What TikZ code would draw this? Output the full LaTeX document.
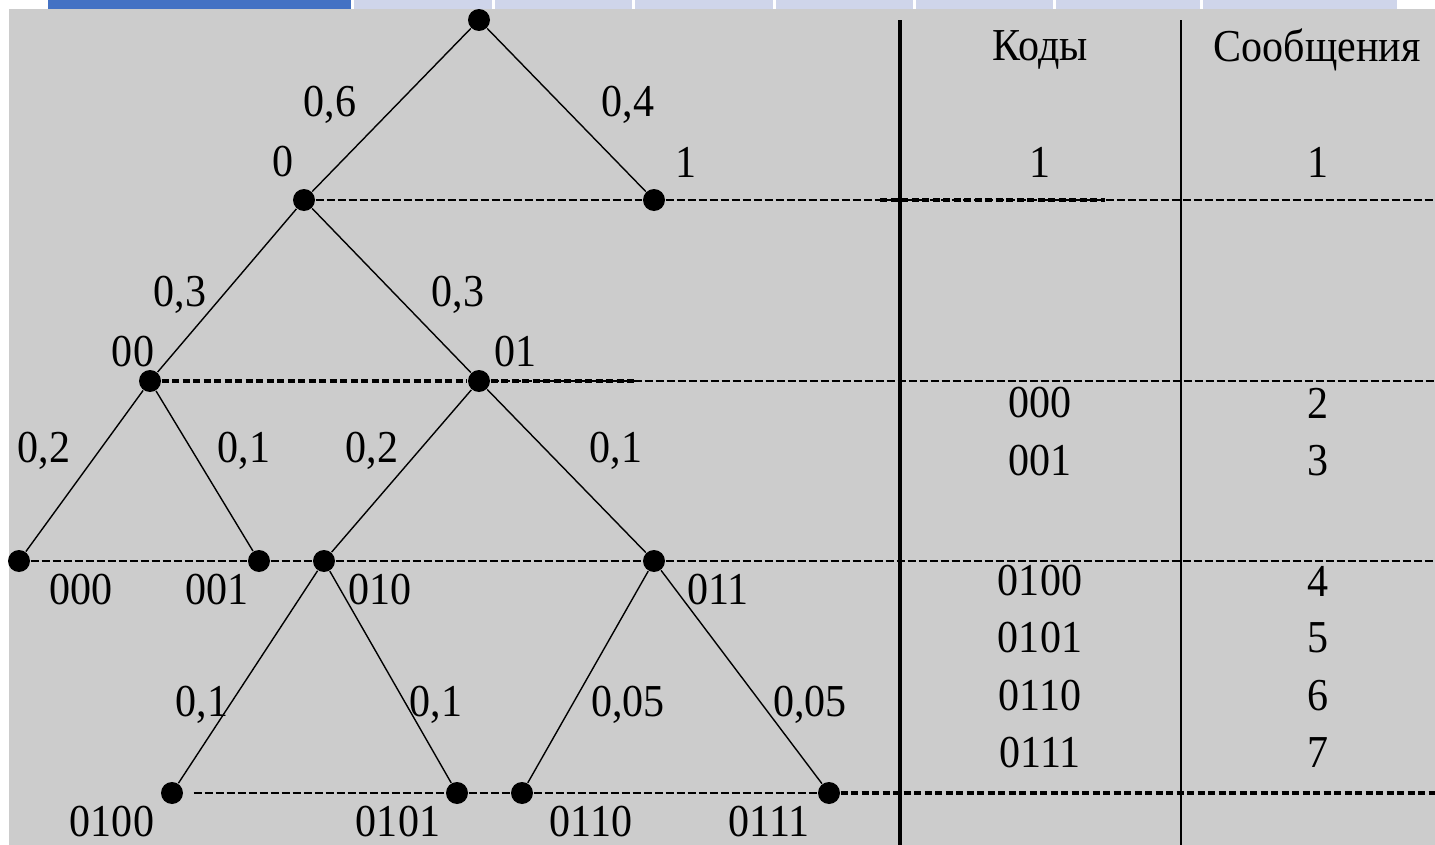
\documentclass[tikz,border=0pt]{standalone}
\usepackage{fontspec}
\setmainfont{Liberation Serif}
\newfontfamily\labfont[FakeStretch=0.92]{Liberation Serif}
\definecolor{slidegray}{HTML}{CCCCCC}
\definecolor{tabblue}{HTML}{4472C4}
\definecolor{tablav}{HTML}{CFD5EA}
\usetikzlibrary{positioning,calc,backgrounds}
\tikzset{
  knot/.style={circle,fill=black,inner sep=0pt,minimum size=2.2mm},
  branch/.style={black,line width=0.4pt},
  guide/.style={black,line width=0.35pt,dash pattern=on 0.8mm off 0.3mm},
  guideH/.style={black,line width=0.9pt,dash pattern=on 0.7mm off 0.35mm},
  lab/.style={inner sep=0pt,font=\labfont\fontsize{13pt}{15pt}\selectfont},
}

\begin{document}
\begin{tikzpicture}[x=0.1mm,y=-0.1mm]
        \useasboundingbox (0,0) rectangle (1435,845);
        % slide frame
        \fill[white] (0,0) rectangle (1435,845);
        \fill[slidegray] (9,9) rectangle (1435,845);
        \fill[tabblue] (48,0) rectangle (351,9);
        \foreach \a/\b in {354/492,495/632,635/773,776/913,916/1053,1056/1200,1203/1397}
          \fill[tablav] (\a,0) rectangle (\b,9);
        % tree knots
        \node[knot] (r) at (479,20) {};
        \node[knot] (k0) at (304,200) {};
        \node[knot] (k1) at (654,200) {};
        \node[knot] (k00) at (150,381) {};
        \node[knot] (k01) at (479,381) {};
        \node[knot] (k000) at (19,561) {};
        \node[knot] (k001) at (259,561) {};
        \node[knot] (k010) at (324,561) {};
        \node[knot] (k011) at (654,561) {};
        \node[knot] (k0100) at (172,793) {};
        \node[knot] (k0101) at (457,793) {};
        \node[knot] (k0110) at (522,793) {};
        \node[knot] (k0111) at (829,793) {};
        % branches
        \draw[branch] (r) -- (k0);  \draw[branch] (r) -- (k1);
        \draw[branch] (k0) -- (k00); \draw[branch] (k0) -- (k01);
        \draw[branch] (k00) -- (k000); \draw[branch] (k00) -- (k001);
        \draw[branch] (k01) -- (k010); \draw[branch] (k01) -- (k011);
        \draw[branch] (k010) -- (k0100); \draw[branch] (k010) -- (k0101);
        \draw[branch] (k011) -- (k0110); \draw[branch] (k011) -- (k0111);
        % level lines
        \coordinate (e1) at (1435,200);
        \coordinate (e2) at (1435,381);
        \coordinate (e3) at (1435,561);
        \coordinate (e4) at (1435,793);
        \draw[guide] (k0) -- (k1) -- (e1);
        \draw[guide] (k01) -- (e2);
        \draw[guide] (k000) -- (k001) -- (k010) -- (k011) -- (e3);
        \draw[guide] ([xshift=1mm]k0100.east) -- (k0101) -- (k0110) -- (k0111);
        \draw[guideH] (880,200) -- (1105,200);
        \draw[guideH] (k00) -- (k01) -- (635,381);
        \draw[guideH] (k0111) -- (e4);
        % table rules
        \coordinate (v1) at (900,20);
        \coordinate (v2) at (1181,20);
        \draw[line width=0.9pt] (v1) -- (900,845);
        \draw[line width=0.55pt] (v2) -- (1181,845);
        % probabilities
        \node[lab] (p0) at (330,105) {0,6};
        \node[lab] (p1) at (628,105) {0,4};
        \node[lab] (p00) at (180,295) {0,3};
        \node[lab] (p01) at (458,295) {0,3};
        \node[lab] (p000) at (44,451) {0,2};
        \node[lab] (p001) at (244,451) {0,1};
        \node[lab] (p010) at (372,451) {0,2};
        \node[lab] (p011) at (616,451) {0,1};
        \node[lab] (p0100) at (202,705) {0,1};
        \node[lab] (p0101) at (436,705) {0,1};
        \node[lab] (p0110) at (628,705) {0,05};
        \node[lab] (p0111) at (810,705) {0,05};
        % knot codes
        \node[lab] (c0) at (283,162) {0};
        \node[lab] (c1) at (686,162) {1};
        \node[lab] (c00) at (133,352) {00};
        \node[lab] (c01) at (516,352) {01};
        \node[lab] (c000) at (81,590) {000};
        \node[lab] (c001) at (217,590) {001};
        \node[lab] (c010) at (380,590) {010};
        \node[lab] (c011) at (718,590) {011};
        \node[lab] (c0100) at (112,822) {0100};
        \node[lab] (c0101) at (398,822) {0101};
        \node[lab] (c0110) at (591,822) {0110};
        \node[lab] (c0111) at (769,822) {0111};
        % table
        \node[lab] (hk) at (1040,50) {Коды};
        \node[lab] (hs) at (1317,50) {Сообщения};
        \foreach \y/\c/\m in {162/1/1,403/000/2,461/001/3,581/0100/4,638/0101/5,696/0110/6,753/0111/7}{
          \node[lab] (t\m) at (1040,\y) {\c};
          \node[lab] (s\m) at (1318,\y) {\m};
        }
      \end{tikzpicture}
\end{document}
